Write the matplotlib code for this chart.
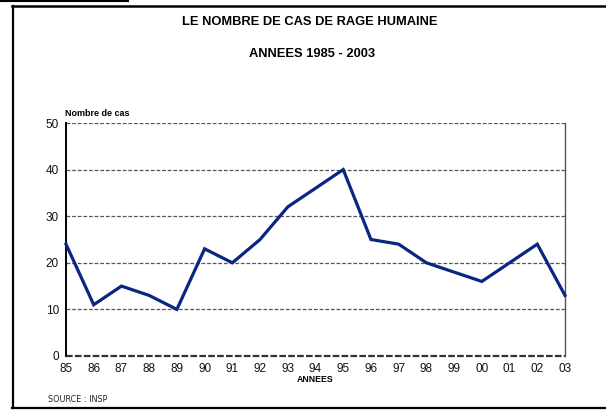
import matplotlib
matplotlib.use("Agg")
import matplotlib.pyplot as plt
from matplotlib.lines import Line2D

years = ["85", "86", "87", "88", "89", "90", "91", "92", "93", "94",
         "95", "96", "97", "98", "99", "00", "01", "02", "03"]
cases = [24, 11, 15, 13, 10, 23, 20, 25, 32, 36, 40, 25, 24, 20, 18, 16, 20, 24, 13]
yticks = [0, 10, 20, 30, 40, 50]

plt.rcParams['font.family'] = ['Liberation Sans', 'DejaVu Sans']

W, H = 606, 412
fig = plt.figure(figsize=(W / 100, H / 100), dpi=100)

def fx(px):
    return px / W

def fy(py):
    return 1 - py / H

ax = fig.add_axes([fx(66), fy(356), fx(565) - fx(66), fy(123) - fy(356)])
x = list(range(len(years)))
ax.plot(x, cases, color="#0a2582", lw=2.3, solid_joinstyle="miter", zorder=3, clip_on=False)
ax.set_xlim(0, len(years) - 1)
ax.set_ylim(0, 50)
ax.set_xticks(x)
ax.set_xticklabels(years)
ax.set_yticks(yticks)
for v in yticks[1:]:
    ax.axhline(v, color="#555555", lw=0.9, ls=(0, (3, 1.5)), zorder=1)
ax.axhline(0, color="#333333", lw=1.6, ls=(0, (3, 1)), zorder=2, clip_on=False)
ax.tick_params(length=0, labelsize=8.5, pad=5, colors="#111111")
ax.spines["top"].set_visible(False)
ax.spines["bottom"].set_visible(False)
ax.spines["left"].set_color("black")
ax.spines["left"].set_linewidth(1.4)
ax.spines["right"].set_color("#555555")
ax.spines["right"].set_linewidth(1.0)

fig.text(fx(310), fy(22), "LE NOMBRE DE CAS DE RAGE HUMAINE", ha="center", va="center",
         fontsize=9.3, fontweight="bold")
fig.text(fx(312), fy(54), "ANNEES 1985 - 2003", ha="center", va="center",
         fontsize=9.3, fontweight="bold")
fig.text(fx(65), fy(113), "Nombre de cas", ha="left", va="center", fontsize=6.5, fontweight="bold")
fig.text(fx(315), fy(380), "ANNEES", ha="center", va="center", fontsize=6.3, fontweight="bold")
fig.text(fx(48), fy(400), "SOURCE : INSP", ha="left", va="center", fontsize=6.5,
         family=["Liberation Sans Narrow", "DejaVu Sans"], stretch="condensed", color="#222222")

# outer frame
fig.add_artist(Line2D([fx(12), fx(606)], [fy(6), fy(6)], color="black", lw=1.8))
fig.add_artist(Line2D([fx(12.5), fx(12.5)], [fy(6), fy(408)], color="black", lw=1.6))
fig.add_artist(Line2D([fx(12), fx(606)], [fy(408), fy(408)], color="black", lw=1.6))
fig.add_artist(Line2D([fx(0), fx(128)], [fy(1), fy(1)], color="black", lw=1.5))

fig.savefig("out.png", dpi=100)
